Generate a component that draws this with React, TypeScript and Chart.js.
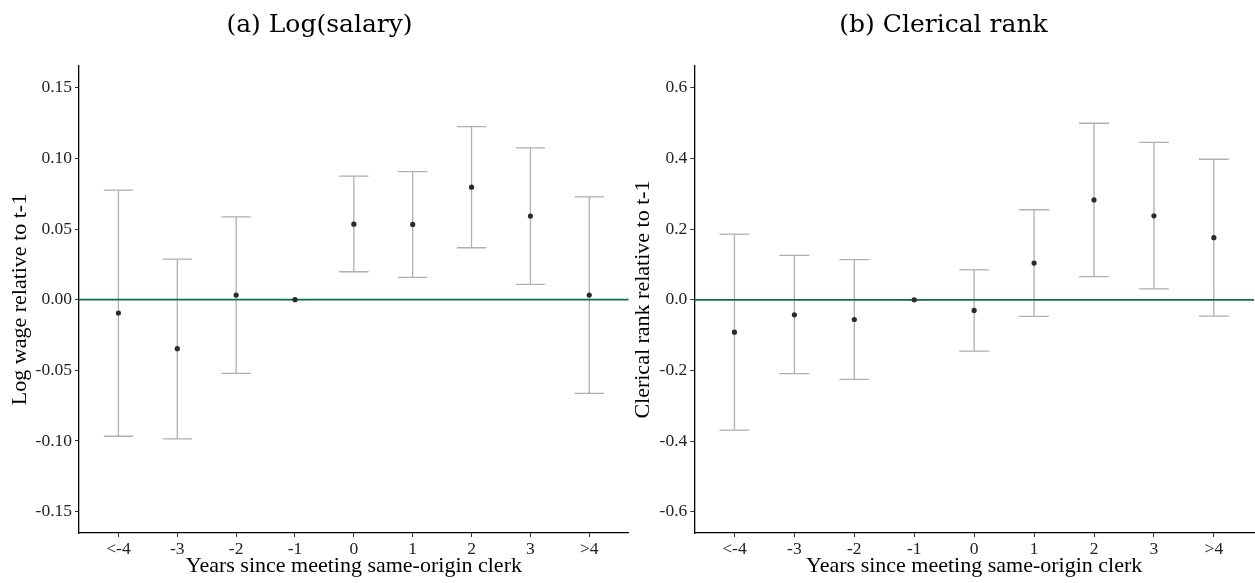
import React, { useEffect, useRef } from "react";
import { Chart, registerables } from "chart.js";

Chart.register(...registerables);

const LABELS = ["<-4", "-3", "-2", "-1", "0", "1", "2", "3", ">4"];

const WAGE_EST = [-0.0094, -0.0347, 0.0033, 0, 0.0535, 0.0533, 0.0797, 0.0592, 0.0033];
const WAGE_LO = [-0.0967, -0.0985, -0.0521, 0, 0.0198, 0.0158, 0.0368, 0.0108, -0.0663];
const WAGE_HI = [0.0776, 0.0288, 0.0587, 0, 0.0875, 0.0907, 0.1226, 0.1075, 0.0728];

const RANK_EST = [-0.0915, -0.0424, -0.0556, 0, -0.03, 0.104, 0.283, 0.238, 0.176];
const RANK_LO = [-0.369, -0.209, -0.225, 0, -0.145, -0.047, 0.066, 0.031, -0.046];
const RANK_HI = [0.186, 0.126, 0.114, 0, 0.085, 0.255, 0.5, 0.446, 0.398];

const WAGE_TICKS = [-0.15, -0.1, -0.05, 0, 0.05, 0.1, 0.15];
const RANK_TICKS = [-0.6, -0.4, -0.2, 0, 0.2, 0.4, 0.6];

const X_MIN = -0.67;
const X_MAX = 8.67;
const CAP_HALF = 0.25;

const SERIF = "'Liberation Serif', 'Times New Roman', serif";
const TITLE_FONT = "'DejaVu Serif', serif";
const GREEN = "#0f7242";
const BAR_GRAY = "#b0b0b0";
const POINT_COLOR = "#2b2b2b";

type PanelProps = {
  left: number;
  width: number;
  title: string;
  titleX: number;
  yTitle: string;
  yTitlePad: number;
  yWidth: number;
  rightPad: number;
  yMin: number;
  yMax: number;
  yTicks: number[];
  decimals: number;
  est: number[];
  lo: number[];
  hi: number[];
};

function Panel(props: PanelProps) {
  const ref = useRef<HTMLCanvasElement | null>(null);
  useEffect(() => {
    const canvas = ref.current;
    if (!canvas) return;
    const { est, lo, hi } = props;

    const errorBars = {
      id: "errorBars",
      beforeDatasetsDraw(chart: any) {
        const ctx = chart.ctx;
        const xs = chart.scales.x;
        const ys = chart.scales.y;
        ctx.save();
        ctx.strokeStyle = BAR_GRAY;
        ctx.lineWidth = 1.3;
        for (let i = 0; i < est.length; i++) {
          const xc = xs.getPixelForValue(i);
          const xl = xs.getPixelForValue(i - CAP_HALF);
          const xr = xs.getPixelForValue(i + CAP_HALF);
          const yl = ys.getPixelForValue(lo[i]);
          const yh = ys.getPixelForValue(hi[i]);
          ctx.beginPath();
          ctx.moveTo(xc, yl);
          ctx.lineTo(xc, yh);
          ctx.moveTo(xl, yl);
          ctx.lineTo(xr, yl);
          ctx.moveTo(xl, yh);
          ctx.lineTo(xr, yh);
          ctx.stroke();
        }
        ctx.restore();
      },
    };

    const titlePlugin = {
      id: "panelTitle",
      afterDraw(chart: any) {
        const ctx = chart.ctx;
        ctx.save();
        ctx.font = `25px ${TITLE_FONT}`;
        ctx.fillStyle = "#000";
        ctx.textAlign = "center";
        ctx.textBaseline = "alphabetic";
        ctx.fillText(props.title, props.titleX, 32);
        ctx.restore();
      },
    };

    const chart = new Chart(canvas, {
      type: "scatter",
      data: {
        datasets: [
          {
            type: "line",
            data: [
              { x: X_MIN, y: 0 },
              { x: X_MAX, y: 0 },
            ],
            borderColor: GREEN,
            borderWidth: 1.8,
            pointRadius: 0,
            order: 2,
          } as any,
          {
            type: "scatter",
            data: est.map((v, i) => ({ x: i, y: v })),
            backgroundColor: POINT_COLOR,
            borderColor: POINT_COLOR,
            pointRadius: 2.6,
            borderWidth: 0,
            order: 1,
          },
        ],
      },
      options: {
        responsive: false,
        animation: false,
        layout: {
          autoPadding: false,
          padding: { top: 66, left: 0, right: props.rightPad, bottom: 0 },
        },
        plugins: {
          legend: { display: false },
          tooltip: { enabled: false },
          title: { display: false },
        },
        scales: {
          x: {
            type: "linear",
            position: "bottom",
            min: X_MIN,
            max: X_MAX,
            afterBuildTicks: (s: any) => {
              s.ticks = LABELS.map((_, i) => ({ value: i }));
            },
            afterFit: (s: any) => {
              s.height = 50;
              s.paddingLeft = 0;
              s.paddingRight = 0;
            },
            ticks: {
              autoSkip: false,
              maxRotation: 0,
              padding: 2,
              color: "#222",
              font: { family: SERIF, size: 17.5 },
              callback: (v: any) => LABELS[Math.round(Number(v))] ?? "",
            },
            grid: {
              display: true,
              drawOnChartArea: false,
              drawTicks: true,
              tickLength: 4,
              tickColor: "#333",
              tickWidth: 1,
            },
            border: { display: true, color: "#000", width: 1.3 },
            title: {
              display: true,
              text: "Years since meeting same-origin clerk",
              color: "#000",
              font: { family: SERIF, size: 22 },
              padding: { top: 0, bottom: 3.5 },
            },
          },
          y: {
            type: "linear",
            position: "left",
            min: props.yMin,
            max: props.yMax,
            afterBuildTicks: (s: any) => {
              s.ticks = props.yTicks.map((v) => ({ value: v }));
            },
            afterFit: (s: any) => {
              s.width = props.yWidth;
              s.paddingTop = 0;
              s.paddingBottom = 0;
            },
            ticks: {
              autoSkip: false,
              padding: 3,
              color: "#222",
              font: { family: SERIF, size: 17.5 },
              callback: (v: any) => Number(v).toFixed(props.decimals),
            },
            grid: {
              display: true,
              drawOnChartArea: false,
              drawTicks: true,
              tickLength: 4,
              tickColor: "#333",
              tickWidth: 1,
            },
            border: { display: true, color: "#000", width: 1.3 },
            title: {
              display: true,
              text: props.yTitle,
              color: "#000",
              font: { family: SERIF, size: 22 },
              padding: { top: props.yTitlePad, bottom: 0 },
            },
          },
        },
      },
      plugins: [errorBars, titlePlugin],
    } as any);

    return () => {
      chart.destroy();
    };
  }, []);

  return (
    <canvas
      ref={ref}
      width={props.width}
      height={583}
      style={{ position: "absolute", left: props.left, top: 0, width: props.width, height: 583 }}
    />
  );
}

export default function App() {
  return (
    <div
      style={{
        position: "absolute",
        left: 0,
        top: 0,
        width: 1255,
        height: 583,
        background: "#fff",
        overflow: "hidden",
      }}
    >
      <Panel
        left={0}
        width={629}
        title="(a) Log(salary)"
        titleX={319.5}
        yTitle="Log wage relative to t-1"
        yTitlePad={6.7}
        yWidth={79}
        rightPad={0.3}
        yMin={-0.1652}
        yMax={0.1655}
        yTicks={WAGE_TICKS}
        decimals={2}
        est={WAGE_EST}
        lo={WAGE_LO}
        hi={WAGE_HI}
      />
      <Panel
        left={629}
        width={626}
        title="(b) Clerical rank"
        titleX={314.5}
        yTitle="Clerical rank relative to t-1"
        yTitlePad={0.8}
        yWidth={65.3}
        rightPad={1}
        yMin={-0.66}
        yMax={0.662}
        yTicks={RANK_TICKS}
        decimals={1}
        est={RANK_EST}
        lo={RANK_LO}
        hi={RANK_HI}
      />
    </div>
  );
}
